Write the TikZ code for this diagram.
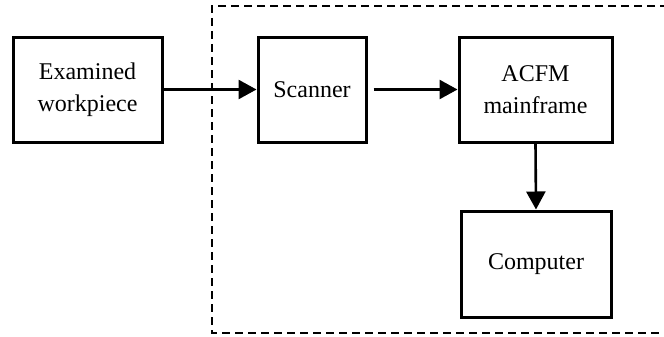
\documentclass[tikz,border=0pt]{standalone}
\usepackage{fontspec}
\setmainfont{Liberation Serif}
\usetikzlibrary{arrows.meta}
\begin{document}
\begin{tikzpicture}[x=0.5pt,y=-0.5pt]
\tikzstyle{every node}+=[font=\fontsize{12}{16}\selectfont]
\tikzstyle{block}=[draw=black,line width=1.5pt,align=center,inner sep=0pt]
\tikzstyle{flow}=[line width=1.3pt,-{Triangle[length=9pt,width=9.5pt]}]
\useasboundingbox (0,0) rectangle (664,337);
\draw [black,line width=1pt,dash pattern=on 4pt off 2.5pt] (668,6) -- (212,6) -- (212,333) -- (668,333);
\node [block,minimum width=74.5pt,minimum height=52.5pt] (work) at (87.5,89.5) {Examined\\workpiece};
\node [block,minimum width=54pt,minimum height=52.5pt] (scan) at (312,89.5) {Scanner};
\node [block,minimum width=76.5pt,minimum height=52.5pt] (acfm) at (535.5,89.5) {ACFM\\mainframe};
\node [block,minimum width=75pt,minimum height=53pt] (comp) at (536,264) {Computer};
\draw [flow] (work.east) -- (scan.west);
\draw [flow] ([xshift=3pt]scan.east) -- (acfm.west);
\draw [flow] (acfm.south) -- (comp.north);
\end{tikzpicture}
\end{document}
